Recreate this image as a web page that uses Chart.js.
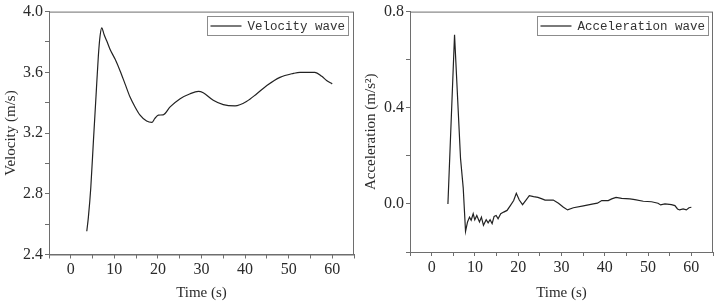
<!DOCTYPE html>
<html>
<head>
<meta charset="utf-8">
<script src="https://cdn.jsdelivr.net/npm/chart.js@4/dist/chart.umd.min.js"></script>
<style>
  body { margin: 0; background: #fff; }
  .box { position: absolute; top: 0; height: 304px; }
  #leftBox { left: 0; width: 360px; }
  #rightBox { left: 360px; width: 357px; }
</style>
</head>
<body>
<div class="box" id="leftBox"><canvas id="velChart"></canvas></div>
<div class="box" id="rightBox"><canvas id="accChart"></canvas></div>
<script>
// velocity wave
const velTime = [3.67, 4.04, 4.59, 5.19, 5.8, 6.33, 6.72, 7.1, 7.64, 8.26, 9.0, 10.16, 11.3, 12.45, 13.6, 14.75, 15.9, 17.4, 18.6, 19.3,
    20.1, 21.2, 22.8, 25.1, 27.4, 29.3, 30.4, 32.7, 35.0, 37.7, 40.4, 42.7, 45.0, 48.0, 51.1, 52.6, 56.0, 57.6, 58.7, 60];
const velocity = [2.553, 2.646, 2.84, 3.145, 3.448, 3.709, 3.839, 3.893, 3.849, 3.806, 3.752, 3.687, 3.611, 3.524, 3.437, 3.372, 3.318, 3.279, 3.27, 3.296,
    3.318, 3.32, 3.372, 3.426, 3.459, 3.474, 3.465, 3.416, 3.387, 3.379, 3.409, 3.459, 3.513, 3.567, 3.593, 3.6, 3.6, 3.574, 3.546, 3.524];

// acceleration wave
const accTime = [3.76, 5.29, 6.67, 7.29, 7.83, 8.29, 8.75, 9.13, 9.6, 9.97, 10.43, 11.05, 11.5, 11.97, 12.6, 13.05, 13.5, 13.97, 14.43, 14.9,
    15.35, 15.96, 16.64, 17.42, 18.18, 18.95, 19.56, 20.25, 21.0, 21.8, 22.56, 23.55, 24.55, 25.5, 26.2, 28.1, 29.3, 30.45, 31.4, 32.75,
    35.06, 37.35, 38.3, 39.3, 40.8, 41.6, 42.6, 43.9, 45.8, 46.95, 48.9, 50.8, 52.3, 52.9, 53.9, 55.4, 56.2, 56.8, 57.3, 58.1, 58.85, 59.45, 60];
const acceleration = [0, 0.704, 0.19, 0.068, -0.114, -0.075, -0.055, -0.068, -0.041, -0.066, -0.048, -0.075, -0.055, -0.089, -0.066, -0.079, -0.066, -0.082, -0.052, -0.048,
    -0.062, -0.041, -0.034, -0.027, -0.007, 0.014, 0.044, 0.016, -0.003, 0.016, 0.034, 0.030, 0.027, 0.021, 0.016, 0.016, 0.003, -0.014, -0.025, -0.016,
    -0.008, 0.0, 0.003, 0.014, 0.014, 0.021, 0.027, 0.023, 0.021, 0.018, 0.011, 0.009, 0.003, -0.004, 0.0, -0.003, -0.007, -0.021, -0.025, -0.021, -0.025, -0.016, -0.014];

const timeTicks = [0, 10, 20, 30, 40, 50, 60];
const velTicks = [2.4, 2.8, 3.2, 3.6, 4.0];
const accTicks = [0.0, 0.4, 0.8];

const axisColor = '#6e6e6e';
const textColor = '#2a2a2a';
const serif = "'Liberation Serif', 'Times New Roman', serif";

// frame around the plot + boxed legend in the top right corner
const framePlugin = {
    id: 'frameLegend',
    afterDraw(chart) {
        const { ctx, chartArea: a } = chart;
        ctx.save();
        ctx.strokeStyle = axisColor;
        ctx.lineWidth = 1;
        ctx.strokeRect(a.left + 0.5, a.top + 0.5, a.right - a.left - 1, a.bottom - a.top);

        const label = chart.data.datasets[0].label;
        ctx.font = "12.5px 'Liberation Mono', monospace";
        const tw = ctx.measureText(label).width;
        const boxRight = a.right - chart.options.plugins.frameLegend.inset;
        const boxW = 3 + 31 + 6 + tw + 3;
        const boxX = boxRight - boxW, boxY = 16, boxH = 19;
        ctx.strokeStyle = '#8c8c8c';
        ctx.strokeRect(Math.round(boxX) + 0.5, boxY + 0.5, Math.round(boxW), boxH);
        ctx.strokeStyle = '#222';
        ctx.lineWidth = 1.2;
        ctx.beginPath();
        ctx.moveTo(boxX + 3, boxY + boxH / 2 + 0.5);
        ctx.lineTo(boxX + 34, boxY + boxH / 2 + 0.5);
        ctx.stroke();
        ctx.fillStyle = '#333';
        ctx.textBaseline = 'middle';
        ctx.fillText(label, boxX + 40, boxY + boxH / 2 + 1);
        ctx.restore();
    }
};

function makeChart(id, label, xs, ys, yMin, yMax, yMajor, yTitle, opts) {
    const points = xs.map((x, i) => ({ x: x, y: ys[i] }));
    return new Chart(document.getElementById(id), {
        type: 'line',
        data: {
            datasets: [{
                label: label,
                data: points,
                borderColor: '#222',
                borderWidth: 1.2,
                pointRadius: 0,
                fill: false,
                tension: opts.smooth ? 0.4 : 0,
                cubicInterpolationMode: opts.smooth ? 'monotone' : 'default'
            }]
        },
        options: {
            responsive: true,
            maintainAspectRatio: false,
            animation: false,
            layout: { padding: { top: 8, right: opts.right, left: 0, bottom: 0 } },
            plugins: {
                legend: { display: false },
                tooltip: { enabled: false },
                frameLegend: { inset: opts.inset }
            },
            scales: {
                x: {
                    type: 'linear',
                    min: -5,
                    max: 65,
                    afterFit: (s) => { s.height = opts.xHeight; },
                    ticks: {
                        stepSize: 5,
                        autoSkip: false,
                        maxRotation: 0,
                        padding: 2,
                        color: textColor,
                        font: { family: serif, size: 16 },
                        callback: (v) => timeTicks.includes(Math.round(v)) && Math.abs(v - Math.round(v)) < 1e-6 ? String(Math.round(v)) : ''
                    },
                    grid: { drawOnChartArea: false, drawTicks: true, tickLength: 4, color: axisColor },
                    border: { display: true, color: axisColor },
                    title: {
                        display: true,
                        text: 'Time (s)',
                        color: textColor,
                        font: { family: serif, size: 15 },
                        padding: { top: 0, bottom: 2 }
                    }
                },
                y: {
                    min: yMin,
                    max: yMax,
                    afterFit: (s) => { s.width = opts.yWidth; },
                    ticks: {
                        stepSize: 0.2,
                        autoSkip: false,
                        padding: 2,
                        color: textColor,
                        font: { family: serif, size: 16 },
                        callback: (v) => {
                            const hit = yMajor.find(t => Math.abs(t - v) < 1e-6);
                            return hit !== undefined ? hit.toFixed(1) : '';
                        }
                    },
                    grid: { drawOnChartArea: false, drawTicks: true, tickLength: 4, color: axisColor },
                    border: { display: true, color: axisColor },
                    title: {
                        display: true,
                        text: yTitle,
                        color: textColor,
                        font: { family: serif, size: 15 },
                        padding: { top: 2, bottom: 0 }
                    }
                }
            }
        },
        plugins: [framePlugin]
    });
}

makeChart('velChart', 'Velocity wave', velTime, velocity, 2.4, 4.0, velTicks, 'Velocity (m/s)',
    { smooth: true, right: 6, inset: 6, xHeight: 49.5, yWidth: 49 });
makeChart('accChart', 'Acceleration wave', accTime, acceleration, -0.2, 0.8, accTicks, 'Acceleration (m/s\u00B2)',
    { smooth: false, right: 4, inset: 5, xHeight: 52, yWidth: 50 });
</script>
</body>
</html>
